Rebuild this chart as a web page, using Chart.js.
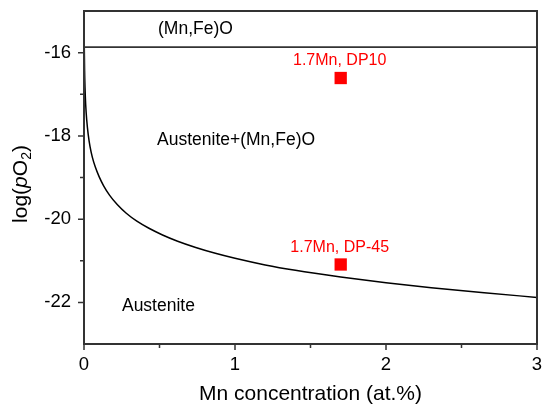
<!DOCTYPE html>
<html>
<head>
<meta charset="utf-8">
<script src="https://cdn.jsdelivr.net/npm/chart.js@4"></script>
<style>
  body { margin: 0; background: #fff; }
  canvas { display: block; }
</style>
</head>
<body>
<canvas id="myChart" width="546" height="405"></canvas>
<script>
// Boundary between austenite and austenite+(Mn,Fe)O
const curveX = [0.002, 0.004, 0.0066, 0.011, 0.018, 0.028, 0.04, 0.055, 0.075, 0.1, 0.13, 0.17, 0.22, 0.28, 0.35, 0.43, 0.52, 0.62, 0.74, 0.87, 1.0, 1.2, 1.4, 1.7, 2.0, 2.3, 2.65, 3.0];
const curveY = [-15.89, -16.44, -16.83, -17.24, -17.62, -17.97, -18.26, -18.51, -18.75, -18.98, -19.2, -19.43, -19.65, -19.86, -20.05, -20.22, -20.38, -20.53, -20.68, -20.82, -20.94, -21.1, -21.23, -21.39, -21.53, -21.65, -21.77, -21.88];

// Upper boundary, (Mn,Fe)O
const topX = [0, 3];
const topY = [-15.87, -15.87];

// Samples
const sampleX = [1.7, 1.7];
const sampleY = [-16.61, -21.09];
const sampleLabels = ["1.7Mn, DP10", "1.7Mn, DP-45"];

// Region names
const regionNames = ["(Mn,Fe)O", "Austenite+(Mn,Fe)O", "Austenite"];

// Axis ticks
const xTicks = [0, 1, 2, 3];
const xMinor = [0.5, 1.5, 2.5];
const yTicks = [-22, -20, -18, -16];
const yMinor = [-21, -19, -17];

const FONT = "'Liberation Sans', Arial, sans-serif";

// frame, tick marks, annotations and the y title
const decorPlugin = {
    id: "decor",
    afterDraw(chart) {
        const ctx = chart.ctx;
        const area = chart.chartArea;
        const xs = chart.scales.x;
        const ys = chart.scales.y;

        ctx.save();
        ctx.strokeStyle = "#333";
        ctx.lineWidth = 2;
        ctx.strokeRect(area.left, area.top, area.right - area.left, area.bottom - area.top);

        // ticks pointing out
        ctx.lineWidth = 1.5;
        ctx.beginPath();
        xTicks.forEach(v => { let p = xs.getPixelForValue(v); ctx.moveTo(p, area.bottom); ctx.lineTo(p, area.bottom + 6); });
        xMinor.forEach(v => { let p = xs.getPixelForValue(v); ctx.moveTo(p, area.bottom); ctx.lineTo(p, area.bottom + 4); });
        yTicks.forEach(v => { let p = ys.getPixelForValue(v); ctx.moveTo(area.left, p); ctx.lineTo(area.left - 6, p); });
        yMinor.forEach(v => { let p = ys.getPixelForValue(v); ctx.moveTo(area.left, p); ctx.lineTo(area.left - 4, p); });
        ctx.stroke();

        // region names
        const regionPos = [[0.738, -15.43], [1.007, -18.11], [0.493, -22.1]];
        ctx.fillStyle = "#000";
        ctx.font = "17.5px " + FONT;
        ctx.textAlign = "center";
        ctx.textBaseline = "middle";
        regionNames.forEach((t, i) => {
            ctx.fillText(t, xs.getPixelForValue(regionPos[i][0]), ys.getPixelForValue(regionPos[i][1]));
        });

        // sample labels above the squares
        ctx.fillStyle = "#ff0000";
        ctx.font = "16px " + FONT;
        sampleLabels.forEach((t, i) => {
            ctx.fillText(t, xs.getPixelForValue(sampleX[i]) - 1, ys.getPixelForValue(sampleY[i]) - 17);
        });

        // y title: log(pO2) with italic p and subscript 2
        const parts = [
            { t: "log(", f: "21px " + FONT, dy: 0 },
            { t: "p", f: "italic 21px " + FONT, dy: 0 },
            { t: "O", f: "21px " + FONT, dy: 0 },
            { t: "2", f: "14px " + FONT, dy: 6 },
            { t: ")", f: "21px " + FONT, dy: 0 }
        ];
        let total = 0;
        parts.forEach(p => { ctx.font = p.f; p.w = ctx.measureText(p.t).width; total += p.w; });
        ctx.translate(21, 184);
        ctx.rotate(-Math.PI / 2);
        ctx.fillStyle = "#000";
        ctx.textAlign = "left";
        ctx.textBaseline = "middle";
        let cx = -total / 2;
        parts.forEach(p => { ctx.font = p.f; ctx.fillText(p.t, cx, p.dy); cx += p.w; });
        ctx.restore();
    }
};

new Chart(document.getElementById("myChart").getContext("2d"), {
    type: "scatter",
    data: {
        datasets: [
            {
                type: "line",
                data: topX.map((x, i) => ({ x: x, y: topY[i] })),
                borderColor: "#333",
                borderWidth: 1.7,
                pointRadius: 0,
            },
            {
                type: "line",
                data: curveX.map((x, i) => ({ x: x, y: curveY[i] })),
                borderColor: "#000",
                borderWidth: 1.5,
                pointRadius: 0,
                cubicInterpolationMode: "monotone",
            },
            {
                data: sampleX.map((x, i) => ({ x: x, y: sampleY[i] })),
                pointStyle: "rect",
                pointRadius: 8.7,
                backgroundColor: "#ff0000",
                borderWidth: 0,
            }
        ]
    },
    options: {
        responsive: false,
        animation: false,
        layout: { padding: { top: 11, right: 9, left: 0, bottom: 0 } },
        plugins: {
            legend: { display: false },
            tooltip: { enabled: false },
        },
        scales: {
            x: {
                type: "linear",
                min: 0,
                max: 3,
                afterBuildTicks: s => { s.ticks = xTicks.map(v => ({ value: v })); },
                afterFit: s => { s.height = 61; s.paddingLeft = 0; s.paddingRight = 0; },
                grid: { display: false, drawTicks: false },
                border: { display: false },
                ticks: { color: "#000", padding: 10, font: { family: FONT, size: 18.5 } },
                title: {
                    display: true,
                    text: "Mn concentration (at.%)",
                    color: "#000",
                    font: { family: FONT, size: 21, lineHeight: 1 },
                    padding: { top: 0, bottom: 0 },
                },
            },
            y: {
                type: "linear",
                min: -23,
                max: -15,
                afterBuildTicks: s => { s.ticks = yTicks.map(v => ({ value: v })); },
                afterFit: s => { s.width = 84; s.paddingTop = 0; s.paddingBottom = 0; },
                grid: { display: false, drawTicks: false },
                border: { display: false },
                ticks: { color: "#000", padding: 13, font: { family: FONT, size: 18.5 } },
            }
        }
    },
    plugins: [decorPlugin]
});
</script>
</body>
</html>
